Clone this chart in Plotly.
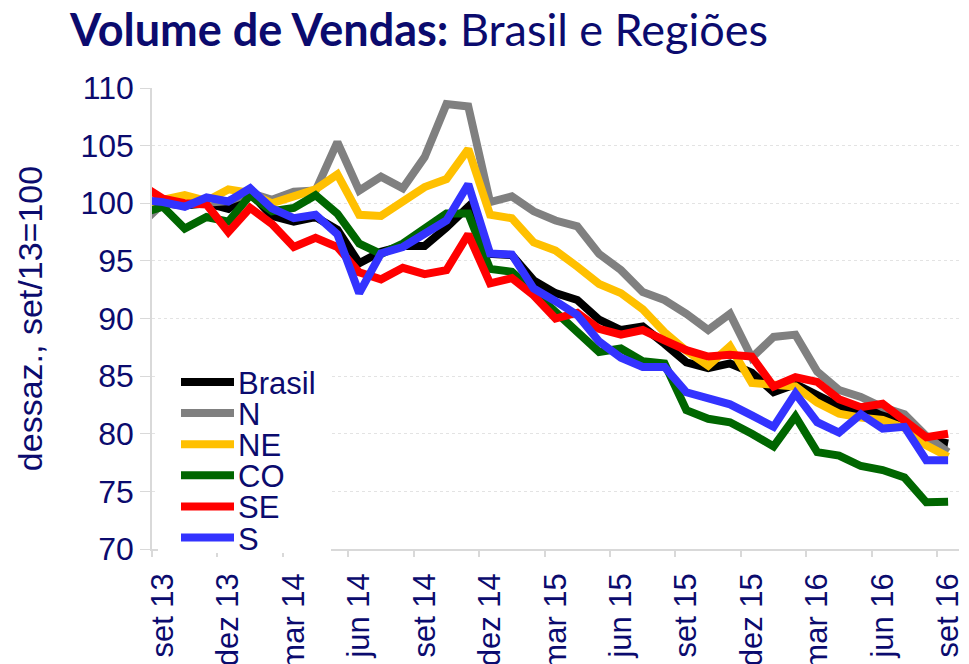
import plotly.graph_objects as go

# Monthly categories (ago 13 is the clipped point left of the axis start)
months = ["ago 13", "set 13", "out 13", "nov 13", "dez 13",
          "jan 14", "fev 14", "mar 14", "abr 14", "mai 14", "jun 14", "jul 14", "ago 14",
          "set 14", "out 14", "nov 14", "dez 14",
          "jan 15", "fev 15", "mar 15", "abr 15", "mai 15", "jun 15", "jul 15", "ago 15",
          "set 15", "out 15", "nov 15", "dez 15",
          "jan 16", "fev 16", "mar 16", "abr 16", "mai 16", "jun 16", "jul 16", "ago 16", "set 16"]

brasil = [99.2, 100.0, 99.8, 100.0, 99.5, 100.9, 98.9, 98.4, 98.8, 97.7, 94.8, 95.8, 96.3,
          96.3, 97.9, 99.7, 95.6, 95.5, 93.3, 92.2, 91.6, 89.9, 89.0, 89.3, 87.8,
          86.2, 85.7, 86.1, 85.3, 83.6, 84.3, 83.35, 82.4, 82.0, 81.8, 81.2, 79.5, 79.15]
norte = [98.2, 100.0, 99.9, 100.1, 100.2, 100.9, 100.3, 101.0, 101.1, 105.3, 101.1, 102.3, 101.3,
         104.0, 108.6, 108.4, 100.1, 100.6, 99.3, 98.5, 98.0, 95.6, 94.2, 92.3, 91.6,
         90.4, 89.0, 90.4, 86.6, 88.4, 88.6, 85.4, 83.8, 83.2, 82.3, 81.7, 79.8, 78.4]
nordeste = [99.9, 100.3, 100.7, 100.2, 101.2, 100.9, 100.0, 100.6, 101.2, 102.5, 99.0, 98.9, 100.1,
            101.4, 102.1, 104.7, 99.0, 98.7, 96.6, 95.9, 94.5, 93.0, 92.2, 90.8, 88.8,
            87.2, 85.9, 87.6, 84.4, 84.2, 84.1, 82.7, 81.75, 81.4, 81.2, 80.5, 79.0, 78.0]
centro_oeste = [99.1, 99.7, 97.8, 98.8, 98.4, 100.7, 99.3, 99.6, 100.7, 99.1, 96.5, 95.6, 96.5,
                97.9, 99.1, 99.1, 94.3, 94.05, 92.3, 90.6, 88.7, 87.1, 87.4, 86.3, 86.1,
                82.05, 81.3, 81.0, 80.0, 78.9, 81.5, 78.4, 78.1, 77.2, 76.85, 76.2, 74.05, 74.1]
sudeste = [101.6, 100.4, 100.0, 99.9, 97.5, 99.6, 98.2, 96.2, 97.0, 96.2, 94.0, 93.4, 94.4,
           93.85, 94.2, 97.3, 93.05, 93.5, 92.0, 90.0, 90.5, 89.1, 88.6, 89.0, 88.1,
           87.25, 86.7, 86.85, 86.7, 84.1, 84.9, 84.5, 83.0, 82.3, 82.6, 81.25, 79.7, 80.0]
sul = [100.3, 100.1, 99.7, 100.5, 100.15, 101.3, 99.55, 98.7, 99.0, 97.3, 92.2, 95.65, 96.2,
       97.4, 98.5, 101.65, 95.65, 95.55, 92.6, 91.5, 90.3, 88.0, 86.6, 85.8, 85.8,
       83.6, 83.1, 82.55, 81.6, 80.6, 83.5, 81.0, 80.1, 81.7, 80.45, 80.6, 77.7, 77.7]

series_names = ["Brasil", "N", "NE", "CO", "SE", "S"]
series_values = [brasil, norte, nordeste, centro_oeste, sudeste, sul]
series_colors = ["#000000", "#808080", "#FFC000", "#006600", "#FF0000", "#3333FF"]

y_ticks = [70, 75, 80, 85, 90, 95, 100, 105, 110]

# numeric positions: set 13 = 0
xpos = [i - 1 for i in range(len(months))]
label_idx = list(range(1, len(months), 3))
tick_vals = [xpos[i] for i in label_idx]
tick_text = [months[i] for i in label_idx]
boundary_vals = [v - 0.5 for v in tick_vals]

NAVY = "#0B0B6E"
OFF = 8                      # default page body margin
W, H = 969 - OFF, 664 - OFF
ML, MR, MT, MB = 152 - OFF, 10, 88 - OFF, 115
PW, PH = W - ML - MR, H - MT - MB

def px_x(p):                 # page pixel -> paper x
    return (p - OFF - ML) / PW

def px_y(p):                 # page pixel -> paper y
    return (H - MB - (p - OFF)) / PH

fig = go.Figure()
for name, vals, col in zip(series_names, series_values, series_colors):
    fig.add_trace(go.Scatter(x=xpos, y=vals, mode="lines", name=name,
                             line=dict(color=col, width=8),
                             hoverinfo="skip", showlegend=False))

# Legend drawn as a compact box (tighter row spacing than the built-in legend)
shapes = [dict(type="rect", xref="paper", yref="paper",
               x0=px_x(158), x1=px_x(331), y0=px_y(553), y1=px_y(364),
               fillcolor="white", line=dict(width=0), layer="above")]
annotations = []
row0, row_gap = 382, 31.1
for k, (name, col) in enumerate(zip(series_names, series_colors)):
    yc = row0 + k * row_gap
    shapes.append(dict(type="line", xref="paper", yref="paper",
                       x0=px_x(181), x1=px_x(234), y0=px_y(yc), y1=px_y(yc),
                       line=dict(color=col, width=8), layer="above"))
    annotations.append(dict(text=name, xref="paper", yref="paper",
                            x=px_x(236), y=px_y(yc + 1), xanchor="left", yanchor="middle",
                            height=30, valign="middle", showarrow=False,
                            font=dict(family="Liberation Sans", size=31, color=NAVY)))

fig.update_layout(
    width=W, height=H,
    margin=dict(l=ML, r=MR, t=MT, b=MB),
    paper_bgcolor="white", plot_bgcolor="white",
    title=dict(text="<b>Volume de Vendas:</b> Brasil e Regiões",
               font=dict(family="Lato", size=45, color=NAVY),
               x=(70 - OFF) / W, xanchor="left", y=1 - 22 / H, yanchor="middle",
               automargin=False),
    showlegend=False,
    shapes=shapes,
    annotations=annotations,
)

fig.update_xaxes(
    range=[-0.5, 36.5], automargin=False,
    tickmode="array", tickvals=tick_vals, ticktext=tick_text,
    tickangle=-90, ticks="", ticklabelstandoff=10,
    tickfont=dict(family="Liberation Sans", size=31, color=NAVY),
    showgrid=False, zeroline=False,
    showline=True, linecolor="#D9D9D9", linewidth=1.5,
    minor=dict(tickmode="array", tickvals=boundary_vals, ticks="outside",
               ticklen=6, tickcolor="#D9D9D9", tickwidth=1.5, showgrid=False),
)

fig.update_yaxes(
    range=[70, 110], automargin=False,
    tickmode="array", tickvals=y_ticks, ticktext=[str(v) for v in y_ticks],
    tickfont=dict(family="Liberation Sans", size=32, color=NAVY),
    ticks="outside", ticklen=10, tickcolor="#D9D9D9",
    showgrid=True, gridcolor="#E3E3E3", griddash="dot", gridwidth=1,
    zeroline=False, showline=True, linecolor="#D9D9D9", linewidth=1.5,
    title=dict(text="dessaz., set/13=100",
               font=dict(family="Liberation Sans", size=34, color=NAVY),
               standoff=28),
)

fig.write_html("out.html")
